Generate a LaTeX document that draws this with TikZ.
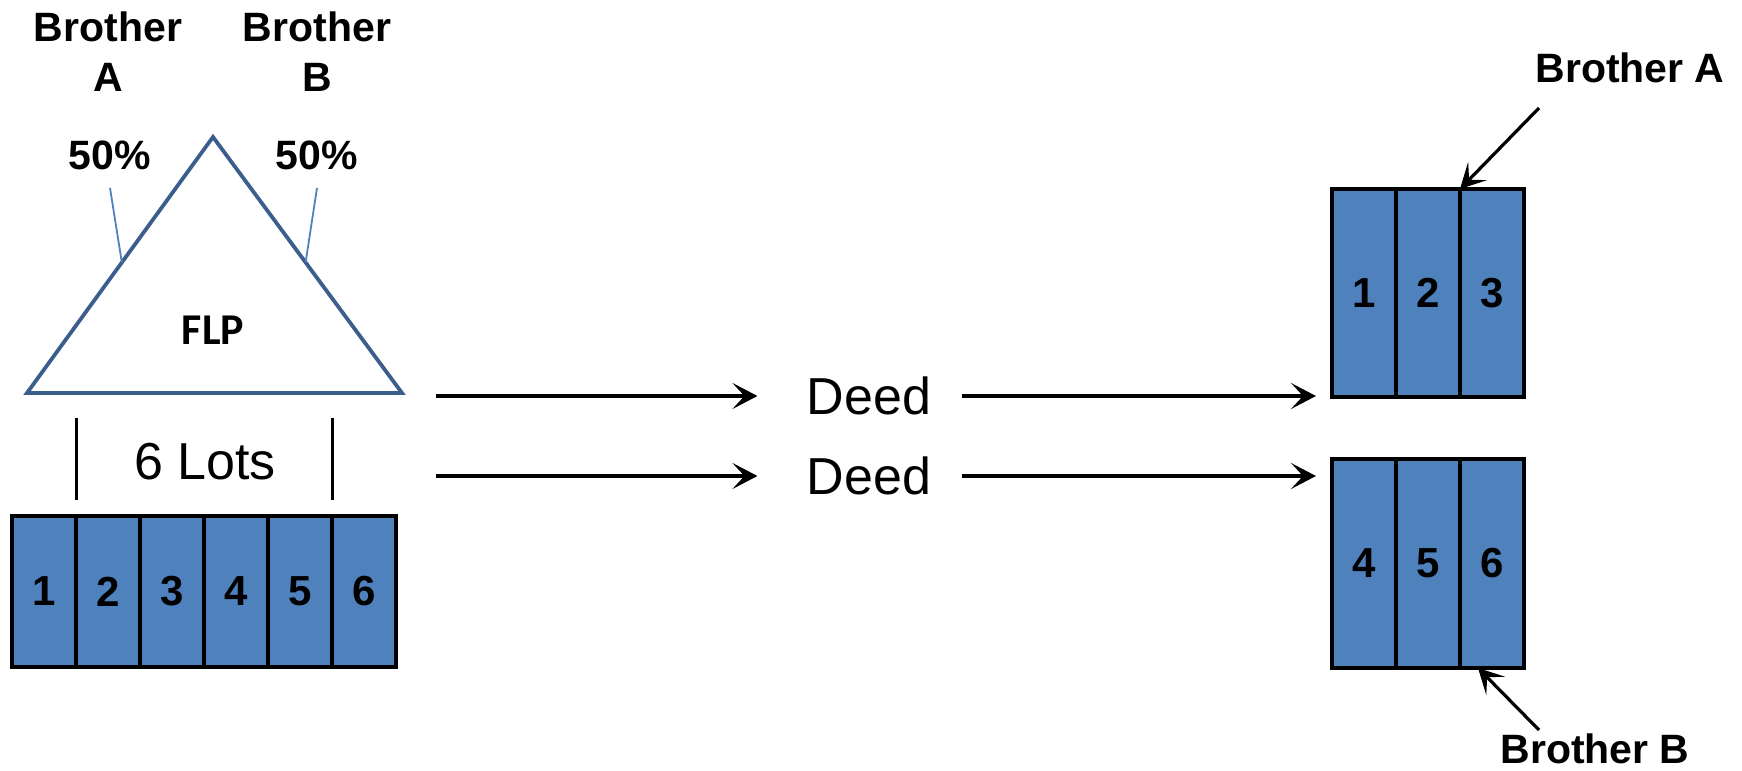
\documentclass[tikz,border=0pt]{standalone}
\usepackage{fontspec}
\setmainfont{Liberation Sans}
\newfontfamily\flpfont{Carlito}
\usetikzlibrary{arrows.meta,calc}
\definecolor{lotblue}{RGB}{79,129,189}
\definecolor{flpblue}{RGB}{59,94,140}

\begin{document}
\begin{tikzpicture}[x=0.5pt, y=0.5pt,
    lot/.style={rectangle, draw, line width=1.6pt, fill=lotblue,
               minimum width=32pt, minimum height=75.5pt, inner sep=0pt,
               outer sep=0pt, font=\fontsize{21}{25}\selectfont\bfseries},
    owner/.style={align=center, font=\fontsize{20.5}{25}\selectfont\bfseries},
    pct/.style={inner xsep=2pt, inner ysep=9pt,
               font=\fontsize{20.5}{25}\selectfont\bfseries},
    deed/.style={inner sep=0pt, font=\fontsize{26}{30}\selectfont},
    flow/.style={line width=1.6pt,
               -{Stealth[length=12.5pt, width=13pt, inset=6pt]}},
    tick/.style={line width=1.5pt},
    share/.style={lotblue, line width=0.9pt}]

  \useasboundingbox (0,0) rectangle (1742,771);

  % partnership triangle
  \coordinate (top) at (213,634);
  \coordinate (bl) at (27,378);
  \coordinate (br) at (402,378);
  \draw[flpblue, line width=1.9pt] (top) -- (bl) -- (br) -- cycle;
  \node[font=\fontsize{22}{26}\selectfont\flpfont\bfseries] (flp) at (213,441) {FLP};

  % owners and their shares
  \node[owner] (ownA) at (108,719) {Brother\\A};
  \node[owner] (ownB) at (317,719) {Brother\\B};
  \node[pct] (pctA) at (110,616) {50\%};
  \node[pct] (pctB) at (317,616) {50\%};
  \draw[share] (pctA.south) -- ($(top)!0.49!(bl)$);
  \draw[share] (pctB.south) -- ($(top)!0.49!(br)$);

  % the six lots held by the FLP
  \foreach \i in {1,...,6}
    \node[lot] (lot\i) at ({44+64*(\i-1)},179.5) {\i};
  \draw[tick] ($(lot2.north west)+(0,16)$) -- ++(0,82);
  \draw[tick] ($(lot6.north west)+(0,16)$) -- ++(0,82);
  \node[deed] (lots) at (205,309) {6 Lots};

  % lots after the deeds
  \foreach \i in {1,2,3}
    \node[lot, minimum height=104pt] (lotA\i) at ({1364+64*(\i-1)},478) {\i};
  \foreach \i [evaluate=\i as \n using int(\i+3)] in {1,2,3}
    \node[lot, minimum height=104.5pt] (lotB\i) at ({1364+64*(\i-1)},207.5) {\n};

  % deeds
  \node[deed] (deed1) at (869,375) {Deed};
  \node[deed] (deed2) at (869,295) {Deed};
  \coordinate (src1) at (436,375);
  \coordinate (src2) at (436,295);
  \draw[flow, shorten >=24.5pt] (src1) -- (src1 -| deed1.west);
  \draw[flow, shorten >=24.5pt] (src2) -- (src2 -| deed2.west);
  \draw[flow, shorten <=15pt, shorten >=8pt] (deed1.east) -- (deed1.east -| lotA1.west);
  \draw[flow, shorten <=15pt, shorten >=8pt] (deed2.east) -- (deed2.east -| lotB1.west);

  % new owners of each half
  \node[font=\fontsize{20.5}{25}\selectfont\bfseries] (newA) at (1630,703) {Brother A};
  \node[font=\fontsize{20.5}{25}\selectfont\bfseries] (newB) at (1595,22) {Brother B};
  \coordinate (fromA) at (1539,663);
  \coordinate (fromB) at (1539,41);
  \draw[flow] (fromA) -- (lotA3.north west);
  \draw[flow] (fromB) -- ($(lotB3.south west)+(18,0)$);
\end{tikzpicture}
\end{document}
